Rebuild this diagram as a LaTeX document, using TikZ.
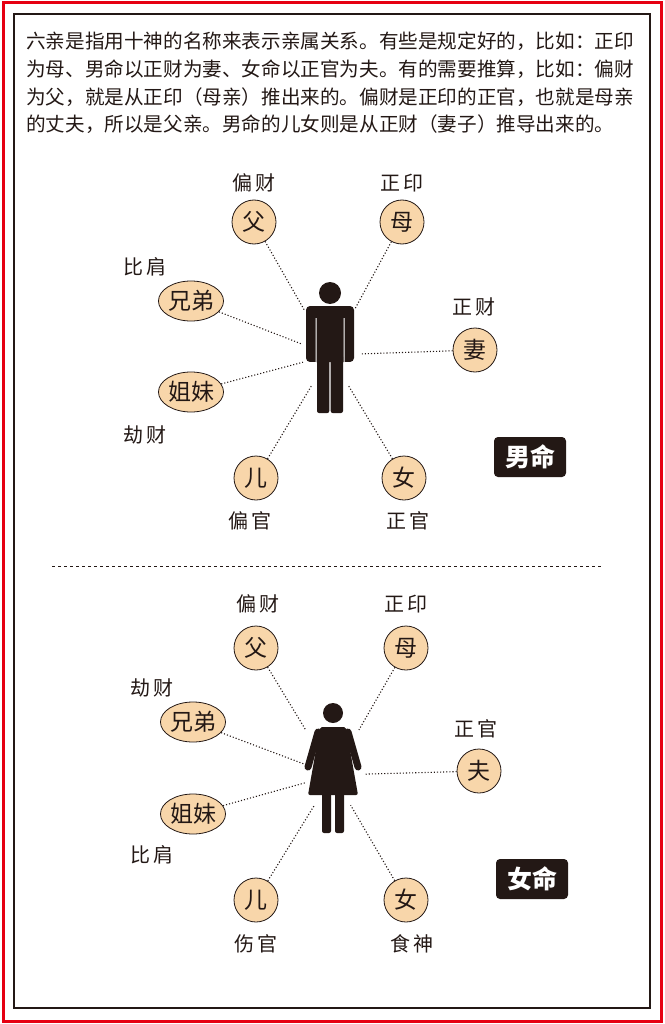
\documentclass[tikz,border=0pt]{standalone}
\usepackage{fontspec}
\newfontfamily\cjk{Noto Sans CJK SC}
\usetikzlibrary{shapes.geometric}
\definecolor{peach}{HTML}{F8D6AA}
\definecolor{ink}{HTML}{231815}
\definecolor{redb}{HTML}{E60012}
\begin{document}
\begin{tikzpicture}[x=1pt,y=-1pt,
  rel/.style={circle,draw=ink,fill=peach,line width=0.8pt,minimum size=44pt,inner sep=0pt,font=\cjk\fontsize{23}{23}\selectfont,text=ink},
  relw/.style={ellipse,draw=ink,fill=peach,line width=0.8pt,minimum width=62pt,minimum height=40pt,inner sep=0pt,font=\cjk\fontsize{23}{23}\selectfont,text=ink},
  lab/.style={font=\cjk\fontsize{20}{20}\selectfont,text=ink},
  conn/.style={dotted,line width=1.1pt,ink},
  tag/.style={fill=ink,rounded corners=4pt,text=white,font=\cjk\bfseries\fontsize{25}{25}\selectfont,minimum width=72pt,minimum height=40pt},
  fig/.style={fill=ink,draw=none}]
\useasboundingbox (0,0) rectangle (664,1024);
\draw[redb,line width=3pt] (3,3) rectangle (661,1021);
\draw[ink,line width=1.2pt] (14,14) rectangle (650,1008);
\node[anchor=north west,align=left,font=\cjk\fontsize{19.6}{27.7}\selectfont,text=ink,inner sep=0pt] (txt) at (26,32)
{六亲是指用十神的名称来表示亲属关系。有些是规定好的，比如：正印\\为母、男命以正财为妻、女命以正官为夫。有的需要推算，比如：偏财\\为父，就是从正印（母亲）推出来的。偏财是正印的正官，也就是母亲\\的丈夫，所以是父亲。男命的儿女则是从正财（妻子）推导出来的。};
% man
\fill[fig] (330,293) circle (11);
\fill[fig,rounded corners=4pt] (306,306) rectangle (354,362);
\fill[white] (315.5,318) rectangle (316.5,362) (343.5,318) rectangle (344.5,362);
\fill[white] (306,362) rectangle (316,366) (344,362) rectangle (354,366);
\fill[fig,rounded corners=2pt] (317,355) rectangle (329.3,413);
\fill[fig,rounded corners=2pt] (330.7,355) rectangle (343,413);
\coordinate (m) at (330,355);
\node[rel] (f1) at (254,222) {父};
\node[rel] (mo1) at (402,222) {母};
\node[relw] (x1) at (191,301) {兄弟};
\node[rel] (w1) at (475,350) {妻};
\node[relw] (s1) at (191,392) {姐妹};
\node[rel] (e1) at (256,478) {儿};
\node[rel] (d1) at (404,478) {女};
\node[lab] at (254,183) {偏\,财};
\node[lab] at (402,183) {正\,印};
\node[lab] at (145,267) {比\,肩};
\node[lab] at (474,307) {正\,财};
\node[lab] at (145,435) {劫\,财};
\node[lab] at (250,521) {偏\,官};
\node[lab] at (408,521) {正\,官};
\node[tag] (t1) at (530,457) {男命};
\draw[conn,shorten >=52pt] (f1) -- (m);
\draw[conn,shorten >=52pt] (mo1) -- (m);
\draw[conn,shorten >=30pt] (x1) -- (m);
\draw[conn,shorten >=32pt] (w1) -- (m);
\draw[conn,shorten >=28pt] (s1) -- (m);
\draw[conn,shorten >=35pt] (e1) -- (m);
\draw[conn,shorten >=35pt] (d1) -- (m);
\draw[dashed,ink,line width=0.6pt] (52,566) -- (602,566);
% woman
\fill[fig] (333,713) circle (10);
\fill[fig,rounded corners=2pt] (320,727) -- (346,727) -- (358,795) -- (308,795) -- cycle;
\draw[ink,line width=7pt,line cap=round] (318,732) -- (308,767);
\draw[ink,line width=7pt,line cap=round] (348,732) -- (358,767);
\fill[fig,rounded corners=2pt] (322,790) rectangle (331,833);
\fill[fig,rounded corners=2pt] (335,790) rectangle (344,833);
\coordinate (wm) at (333,775);
\node[rel] (f2) at (256,648) {父};
\node[rel] (mo2) at (406,648) {母};
\node[relw] (x2) at (193,722) {兄弟};
\node[rel] (h2) at (479,771) {夫};
\node[relw] (s2) at (193,814) {姐妹};
\node[rel] (e2) at (256,900) {儿};
\node[rel] (d2) at (406,900) {女};
\node[lab] at (258,604) {偏\,财};
\node[lab] at (406,604) {正\,印};
\node[lab] at (152,688) {劫\,财};
\node[lab] at (476,729) {正\,官};
\node[lab] at (152,855) {比\,肩};
\node[lab] at (256,944) {伤\,官};
\node[lab] at (412,944) {食\,神};
\node[tag] (t2) at (532,879) {女命};
\draw[conn,shorten >=52pt] (f2) -- (wm);
\draw[conn,shorten >=52pt] (mo2) -- (wm);
\draw[conn,shorten >=30pt] (x2) -- (wm);
\draw[conn,shorten >=32pt] (h2) -- (wm);
\draw[conn,shorten >=28pt] (s2) -- (wm);
\draw[conn,shorten >=35pt] (e2) -- (wm);
\draw[conn,shorten >=35pt] (d2) -- (wm);
\end{tikzpicture}
\end{document}
